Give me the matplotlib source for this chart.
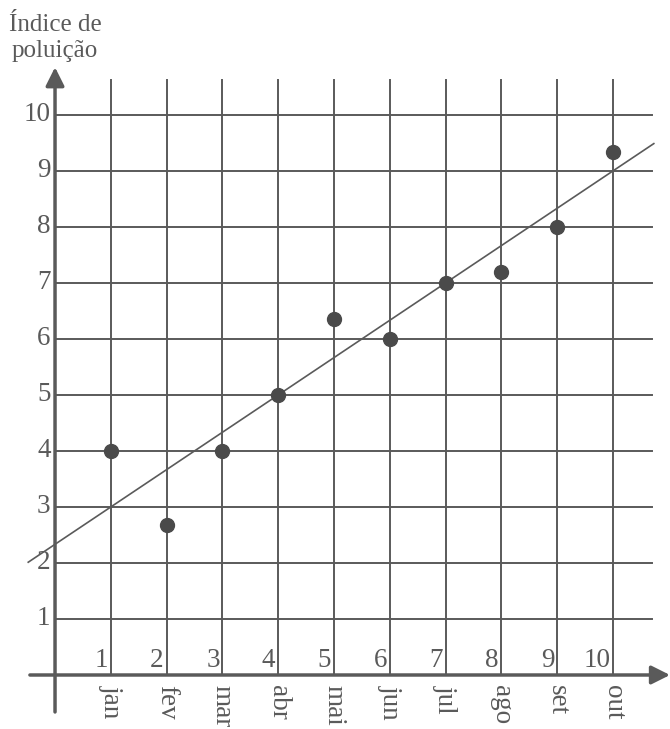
import numpy as np
import matplotlib
matplotlib.use("Agg")
import matplotlib.pyplot as plt

# dados
meses = ["jan", "fev", "mar", "abr", "mai", "jun", "jul", "ago", "set", "out"]
x_num = [1, 2, 3, 4, 5, 6, 7, 8, 9, 10]
indice = [4, 2.67, 4, 5, 6.35, 6, 7, 7.2, 8, 9.33]
y_ticks = [1, 2, 3, 4, 5, 6, 7, 8, 9, 10]
# reta de tendencia
reta_a = 2 / 3
reta_b = 7 / 3

cor = "#5a5a5a"
plt.rcParams["font.family"] = ["Liberation Serif", "DejaVu Serif"]

fig = plt.figure(figsize=(6.7, 7.29), dpi=100)
ax = fig.add_axes([0, 0, 1, 1])
ax.set_xlim(-0.986, 11.02)
ax.set_ylim(-0.964, 12.05)
ax.axis("off")

# grade
top = 10.63
for xi in x_num:
    ax.plot([xi, xi], [0, top], color=cor, lw=1.4, zorder=1)
for yi in y_ticks:
    ax.plot([0, 10.7], [yi, yi], color=cor, lw=1.4, zorder=1)

# eixos com setas
ax.annotate("", xy=(11.02, 0), xytext=(-0.45, 0),
            arrowprops=dict(arrowstyle="-|>", mutation_scale=28, lw=2.5, color=cor,
                            shrinkA=0, shrinkB=0), zorder=3)
ax.annotate("", xy=(0, 10.85), xytext=(0, -0.66),
            arrowprops=dict(arrowstyle="-|>", mutation_scale=28, lw=2.5, color=cor,
                            shrinkA=0, shrinkB=0), zorder=3)

# reta
xr = np.array([-0.48, 10.73])
ax.plot(xr, reta_a * xr + reta_b, color=cor, lw=1.2, zorder=2)

# pontos
ax.plot(x_num, indice, "o", color="#4a4a4a", ms=10, zorder=4)

fs = 19.5
for xi, m in zip(x_num, meses):
    ax.text(xi - 0.05, 0.03, str(xi), ha="right", va="bottom", fontsize=fs, color=cor)
    ax.text(xi, -0.18, m, ha="center", va="top", rotation=270, fontsize=fs, color=cor)
for yi in y_ticks:
    ax.text(-0.08, yi, str(yi), ha="right", va="center", fontsize=fs, color=cor)

ax.text(0.0, 11.8, "Índice de\npoluição", ha="center", va="top", fontsize=18,
        color=cor, linespacing=1.25)

fig.savefig("out.png", dpi=100)
